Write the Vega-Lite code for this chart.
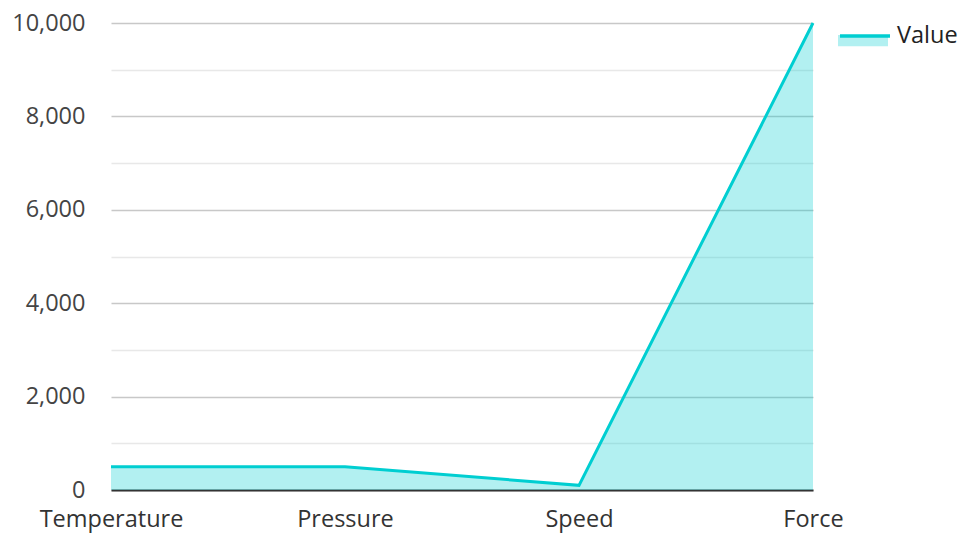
{
  "$schema": "https://vega.github.io/schema/vega-lite/v6.json",
  "width": 702,
  "height": 467,
  "autosize": {"type": "none"},
  "padding": {"left": 111, "top": 23, "right": 150, "bottom": 43},
  "background": "white",
  "config": {
    "font": "Open Sans",
    "view": {"stroke": null}
  },
  "data": {
    "values": [
      {"Parameter": "Temperature", "Value": 500, "Series": "Value"},
      {"Parameter": "Pressure", "Value": 500, "Series": "Value"},
      {"Parameter": "Speed", "Value": 100, "Series": "Value"},
      {"Parameter": "Force", "Value": 10000, "Series": "Value"}
    ]
  },
  "encoding": {
    "x": {
      "field": "Parameter",
      "type": "ordinal",
      "sort": null,
      "scale": {"type": "point", "padding": 0},
      "title": null,
      "axis": {
        "labelAngle": 0,
        "labelFontSize": 23.5,
        "labelColor": "#333333",
        "labelPadding": 17,
        "ticks": false,
        "domainColor": "#333333",
        "domainWidth": 2,
        "grid": false
      }
    },
    "y": {
      "field": "Value",
      "type": "quantitative",
      "scale": {"domain": [0, 10000]},
      "title": null,
      "axis": {
        "values": [0, 1000, 2000, 3000, 4000, 5000, 6000, 7000, 8000, 9000, 10000],
        "labelExpr": "datum.value % 2000 === 0 ? datum.label : ''",
        "labelFontSize": 23.5,
        "labelColor": "#444444",
        "labelPadding": 26,
        "ticks": false,
        "domain": false,
        "gridColor": {"condition": {"test": "datum.value % 2000 === 0", "value": "#c8c8c8"}, "value": "#e8e8e8"},
        "gridWidth": 1.5
      }
    }
  },
  "layer": [
    {
      "mark": {"type": "area", "fillOpacity": 0.3},
      "encoding": {
        "fill": {
          "field": "Series",
          "type": "nominal",
          "scale": {"range": ["#00CED1"]},
          "legend": {
            "title": null,
            "orient": "none",
            "legendX": 727,
            "legendY": -13,
            "symbolType": "M-1,0L1,0L1,0.45L-1,0.45Z",
            "symbolSize": 2500,
            "symbolOpacity": 0.3,
            "symbolStrokeWidth": 0,
            "labelExpr": "''",
            "labelFontSize": 23.5
          }
        }
      }
    },
    {
      "mark": {"type": "line", "strokeWidth": 3},
      "encoding": {
        "stroke": {
          "field": "Series",
          "type": "nominal",
          "scale": {"range": ["#00CED1"]},
          "legend": {
            "title": null,
            "orient": "none",
            "legendX": 727,
            "legendY": -14,
            "symbolType": "stroke",
            "symbolSize": 2500,
            "symbolStrokeWidth": 3.5,
            "labelFontSize": 23.5,
            "labelColor": "#222222",
            "labelOffset": 5
          }
        }
      }
    }
  ]
}
